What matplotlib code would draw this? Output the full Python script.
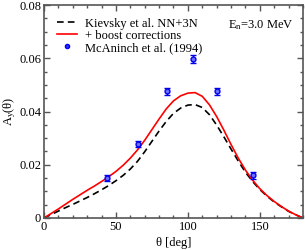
import matplotlib
matplotlib.use("Agg")
import matplotlib.pyplot as plt
from matplotlib.lines import Line2D
from matplotlib.ticker import MultipleLocator, FixedLocator

plt.rcParams["font.family"] = ["Liberation Serif", "DejaVu Serif"]
plt.rcParams["mathtext.fontset"] = "custom"
plt.rcParams["mathtext.rm"] = "Liberation Serif"
plt.rcParams["mathtext.it"] = "Liberation Serif:italic"

# angles for the theory curves [deg]
theta = [0, 5, 10, 15, 20, 25, 30, 35, 40, 45, 50, 55, 60, 65, 70, 75, 80, 85, 90,
         95, 100, 105, 110, 115, 120, 125, 130, 135, 140, 145, 150, 155, 160, 165,
         170, 175, 180]

# Kievsky et al. NN+3N
ay_nn3n = [0, 0.0013, 0.0026, 0.0039, 0.0051, 0.0064, 0.0077, 0.0091, 0.0106, 0.0122,
           0.0140, 0.0160, 0.0184, 0.0213, 0.0249, 0.0288, 0.0327, 0.0363, 0.0393,
           0.0413, 0.0424, 0.0426, 0.0415, 0.0388, 0.0349, 0.0305, 0.0259, 0.0214,
           0.0172, 0.0137, 0.0107, 0.0082, 0.0060, 0.0042, 0.0025, 0.0012, 0]

# + boost corrections
ay_boost = [0, 0.0017, 0.0034, 0.0052, 0.0070, 0.0087, 0.0104, 0.0120, 0.0137, 0.0155,
            0.0175, 0.0198, 0.0225, 0.0256, 0.0292, 0.0332, 0.0372, 0.0410, 0.0440,
            0.0459, 0.0469, 0.0471, 0.0457, 0.0425, 0.0381, 0.0330, 0.0276, 0.0225,
            0.0180, 0.0142, 0.0110, 0.0084, 0.0062, 0.0043, 0.0026, 0.0012, 0]

# McAninch et al. (1994)
theta_exp = [44, 65.5, 85.5, 103.5, 120.5, 145.5]
ay_exp = [0.0150, 0.0278, 0.0476, 0.0597, 0.0476, 0.0160]
ay_err = [0.0010, 0.0011, 0.0013, 0.0015, 0.0013, 0.0013]

fig = plt.figure(figsize=(3.05, 2.5), dpi=100)
ax = fig.add_axes([0.1443, 0.128, 0.8491, 0.852])

ax.plot(theta, ay_nn3n, color="black", lw=1.2, ls=(0, (4, 2.5)))
ax.plot(theta, ay_boost, color="#ff0000", lw=1.2)
ax.errorbar(theta_exp, ay_exp, yerr=ay_err, fmt="o", ms=3.5, mfc="#7070ff",
            mec="#0000ee", mew=1.0, ecolor="#0000ee", elinewidth=1.0,
            capsize=2.5, capthick=1.0)

ax.set_xlim(0, 180)
ax.set_ylim(0, 0.08)
ax.xaxis.set_major_locator(FixedLocator([0, 50, 100, 150]))
ax.xaxis.set_minor_locator(MultipleLocator(10))
ax.yaxis.set_major_locator(FixedLocator([0, 0.02, 0.04, 0.06, 0.08]))
ax.yaxis.set_minor_locator(MultipleLocator(0.005))
ax.set_xticklabels(["0", "50", "100", "150"])
ax.set_yticklabels(["0", "0.02", "0.04", "0.06", "0.08"])

ax.tick_params(which="both", direction="in", top=True, right=True,
               labelsize=9, color="#555555", pad=2)
ax.tick_params(which="major", length=4.5, width=1.0)
ax.tick_params(which="minor", length=2.5, width=1.0)
for s in ax.spines.values():
    s.set_linewidth(1.2)
    s.set_color("#555555")

ax.set_xlabel("θ [deg]", fontsize=9, labelpad=3)
ax.set_ylabel(r"A$_\mathrm{y}$(θ)", fontsize=9, labelpad=1)

ax.text(0.965, 0.905, r"E$_\mathrm{n}$=3.0 MeV", transform=ax.transAxes,
        ha="right", va="center", fontsize=9)

handles = [
    Line2D([], [], color="black", lw=1.2, ls=(0, (4, 2.5))),
    Line2D([], [], color="#ff0000", lw=1.2),
    Line2D([], [], color="#0000ee", marker="o", ms=3, ls="none", mfc="#3030ff"),
]
labels = ["Kievsky et al. NN+3N", "+ boost corrections", "McAninch et al. (1994)"]
ax.legend(handles, labels, loc="upper left", bbox_to_anchor=(0.02, 0.975),
          fontsize=9, frameon=False, handlelength=1.6, handletextpad=0.7,
          labelspacing=0.0, borderaxespad=0.2)

fig.savefig("out.png", dpi=100)
